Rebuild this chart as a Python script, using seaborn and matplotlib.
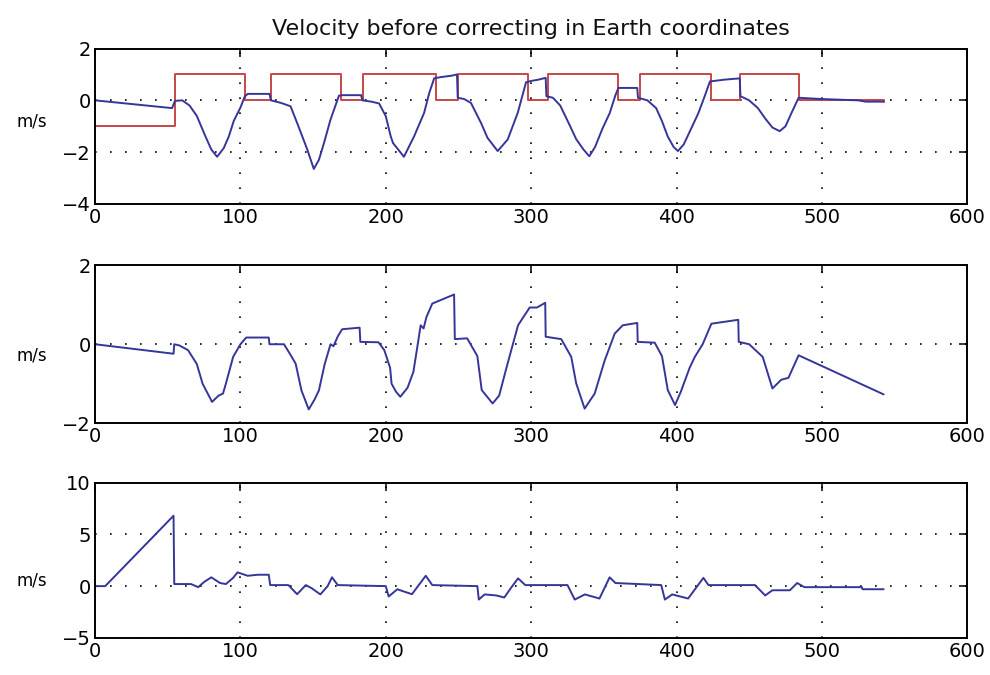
import pandas as pd
import seaborn as sns
import matplotlib.pyplot as plt

# --- data ---
TITLE = "Velocity before correcting in Earth coordinates"
YLABEL = "m/s"

# top panel, red step signal (value holds from each x until the next)
top_red_x = [0, 55, 103, 121, 169, 184, 234.5, 249.5, 298, 311.5, 360, 375,
             423.5, 444, 484, 542.5]
top_red_y = [-1, 1, 0, 1, 0, 1, 0, 1, 0, 1, 0, 1, 0, 1, 0, -0.05]

# top panel, blue velocity
top_blue_x = [0, 53, 55, 60, 65, 70, 76, 80, 84, 88.5, 92, 95.4, 100, 103, 105,
              120, 121, 128, 134.5, 139, 146, 150.5, 154, 157.5, 162, 167.8, 170,
              183, 184, 190, 195.4, 200, 203.4, 205, 212.5, 219.5, 226.4, 230, 233.3,
              238, 245, 249, 249.5, 254, 258.6, 265.5, 270, 277, 283.9, 290.8, 296.5,
              300, 305, 310, 310.5, 315, 320, 326, 331, 336, 340, 344, 349, 354,
              358, 360, 373, 373.5, 380, 386, 390, 394, 398, 401, 405, 410, 415,
              419, 423, 433, 443.5, 444, 450, 456, 461, 466, 471, 475, 479, 484,
              500, 525, 530, 542.5]
top_blue_y = [0, -0.3, -0.02, 0.0, -0.2, -0.6, -1.4, -1.9, -2.18, -1.85, -1.4, -0.8,
              -0.28, 0.15, 0.25, 0.25, 0.0, -0.1, -0.23, -0.87, -1.9, -2.65, -2.3,
              -1.65, -0.74, 0.18, 0.2, 0.2, 0.0, -0.05, -0.12, -0.61, -1.39, -1.65,
              -2.18, -1.39, -0.48, 0.3, 0.85, 0.9, 0.95, 1.0, 0.1, 0.05, -0.1,
              -0.87, -1.45, -1.96, -1.51, -0.48, 0.7, 0.75, 0.8, 0.87, 0.16, 0.1,
              -0.2, -0.9, -1.5, -1.9, -2.16, -1.8, -1.1, -0.5, 0.2, 0.48, 0.48,
              0.1, 0.0, -0.3, -0.8, -1.4, -1.8, -1.96, -1.7, -1.1, -0.5, 0.1, 0.73,
              0.8, 0.85, 0.16, 0.0, -0.3, -0.7, -1.05, -1.19, -1.0, -0.5, 0.1, 0.05,
              0.0, -0.05, -0.05]

# middle panel
mid_x = [0, 54, 54.5, 58, 64, 70, 74, 80.5, 85, 88, 90, 95, 100, 104, 119.5, 120,
         130, 135, 138, 142, 147, 151, 154, 158, 162, 164, 167, 170, 182, 182.5,
         195, 199, 203, 204, 207, 210, 215, 219, 222, 224, 226, 228, 232, 247,
         247.5, 256, 263, 266, 273.5, 278, 283, 291, 294, 299, 304, 309.7, 310,
         320.7, 327.6, 331, 336.8, 343.7, 350.6, 357.5, 363, 373, 373.3, 385, 390,
         394, 399, 403, 409, 412.6, 418, 424, 442.5, 442.8, 450, 459.3, 466, 472,
         477, 484, 542.5]
mid_y = [0, -0.24, 0.0, -0.03, -0.15, -0.5, -1.0, -1.46, -1.3, -1.25, -1.0, -0.32,
         0.0, 0.17, 0.17, 0.0, 0.0, -0.3, -0.49, -1.17, -1.65, -1.4, -1.17, -0.5,
         0.0, -0.05, 0.2, 0.38, 0.42, 0.06, 0.05, -0.15, -0.6, -1.0, -1.2, -1.33,
         -1.1, -0.7, 0.0, 0.48, 0.4, 0.69, 1.03, 1.26, 0.13, 0.15, -0.3, -1.16,
         -1.5, -1.3, -0.6, 0.48, 0.65, 0.93, 0.93, 1.05, 0.19, 0.13, -0.32, -0.99,
         -1.63, -1.25, -0.41, 0.27, 0.48, 0.54, 0.06, 0.04, -0.3, -1.16, -1.54,
         -1.2, -0.6, -0.32, 0.0, 0.52, 0.62, 0.06, 0.0, -0.32, -1.12, -0.9, -0.85,
         -0.28, -1.27]

# bottom panel
bot_x = [0, 7, 54, 54.5, 60, 66, 71, 75, 80, 86, 90, 95, 98, 105, 112, 119.5,
         120.5, 133, 139, 145, 149, 155, 160, 163, 167, 200, 202, 208, 212, 218,
         227.5, 232, 263, 264, 268, 276, 281.5, 286, 291, 296, 325, 330, 337, 347,
         354, 358, 389.5, 392, 397, 408, 418.5, 422, 454, 461, 466, 478, 483, 488,
         527.5, 528, 542.5]
bot_y = [0, 0, 6.8, 0.2, 0.2, 0.2, -0.1, 0.4, 0.85, 0.3, 0.2, 0.8, 1.33, 1.0, 1.1,
         1.1, 0.1, 0.1, -0.78, 0.1, -0.2, -0.8, 0.0, 0.85, 0.1, 0.0, -1.0, -0.3,
         -0.5, -0.78, 1.0, 0.1, 0.0, -1.3, -0.8, -0.9, -1.1, -0.2, 0.75, 0.1, 0.1,
         -1.3, -0.8, -1.2, 0.85, 0.3, 0.1, -1.3, -0.8, -1.2, 0.8, 0.1, 0.1, -0.9,
         -0.4, -0.4, 0.3, -0.1, -0.1, -0.3, -0.3]

BLUE = "#35359a"
RED = "#c84848"

sns.set_style("white")
plt.rcParams["font.family"] = ["DejaVu Sans"]

fig = plt.figure(figsize=(9.9, 6.75), dpi=100)

# axes placed to match the reference (fractions of the figure)
ax_top = fig.add_axes([0.096, 0.698, 0.881, 0.230])
ax_mid = fig.add_axes([0.096, 0.373, 0.881, 0.234])
ax_bot = fig.add_axes([0.096, 0.055, 0.881, 0.230])

top_red = pd.DataFrame({"t": top_red_x, "v": top_red_y})
top_blue = pd.DataFrame({"t": top_blue_x, "v": top_blue_y})
mid = pd.DataFrame({"t": mid_x, "v": mid_y})
bot = pd.DataFrame({"t": bot_x, "v": bot_y})

sns.lineplot(data=top_red, x="t", y="v", ax=ax_top, color=RED, lw=1.4,
             sort=False, estimator=None, drawstyle="steps-post")
sns.lineplot(data=top_blue, x="t", y="v", ax=ax_top, color=BLUE, lw=1.4,
             sort=False, estimator=None)
sns.lineplot(data=mid, x="t", y="v", ax=ax_mid, color=BLUE, lw=1.4,
             sort=False, estimator=None)
sns.lineplot(data=bot, x="t", y="v", ax=ax_bot, color=BLUE, lw=1.4,
             sort=False, estimator=None)

limits = [(ax_top, (-4, 2), [-4, -2, 0, 2], 0.53),
          (ax_mid, (-2, 2), [-2, 0, 2], 0.43),
          (ax_bot, (-5, 10), [-5, 0, 5, 10], 0.37)]

for ax, ylim, yticks, label_y in limits:
    ax.set_xlim(0, 600)
    ax.set_ylim(*ylim)
    ax.set_xticks(range(0, 601, 100))
    ax.set_yticks(yticks)
    ax.set_xlabel("")
    ax.set_ylabel(YLABEL, rotation=0, fontsize=12, ha="center", va="center",
                  color="black")
    ax.yaxis.set_label_coords(-0.072, label_y)
    ax.grid(True, linestyle=(0, (1, 8)), color="black", linewidth=1.2)
    ax.tick_params(direction="in", length=6, width=1.1, top=True, right=True,
                   labelsize=14, colors="black", pad=3)
    for sp in ax.spines.values():
        sp.set_visible(True)
        sp.set_color("black")
        sp.set_linewidth(1.4)

ax_top.set_title(TITLE, fontsize=16, pad=10, color="#111111")

fig.savefig("out.png", dpi=100, facecolor="white")
